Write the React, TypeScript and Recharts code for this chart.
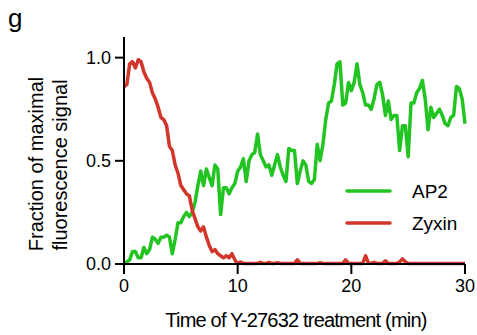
import React from "react";
import { LineChart, Line, XAxis, YAxis, Legend } from "recharts";

const FONT = "'Liberation Sans', Arial, Helvetica, sans-serif";

// sample times (min)
const time = [
  0, 0.25, 0.5, 0.75, 1, 1.25, 1.5, 1.75,
  2, 2.25, 2.5, 2.75, 3, 3.25, 3.5, 3.75,
  4, 4.25, 4.5, 4.75, 5, 5.25, 5.5, 5.75,
  6, 6.25, 6.5, 6.75, 7, 7.25, 7.5, 7.75,
  8, 8.25, 8.5, 8.75, 9, 9.25, 9.5, 9.75,
  10, 10.25, 10.5, 10.75, 11, 11.25, 11.5, 11.75,
  12, 12.25, 12.5, 12.75, 13, 13.25, 13.5, 13.75,
  14, 14.25, 14.5, 14.75, 15, 15.25, 15.5, 15.75,
  16, 16.25, 16.5, 16.75, 17, 17.25, 17.5, 17.75,
  18, 18.25, 18.5, 18.75, 19, 19.25, 19.5, 19.75,
  20, 20.25, 20.5, 20.75, 21, 21.25, 21.5, 21.75,
  22, 22.25, 22.5, 22.75, 23, 23.25, 23.5, 23.75,
  24, 24.25, 24.5, 24.75, 25, 25.25, 25.5, 25.75,
  26, 26.25, 26.5, 26.75, 27, 27.25, 27.5, 27.75,
  28, 28.25, 28.5, 28.75, 29, 29.25, 29.5, 29.75,
  30,
];

const ap2 = [
  0.0, 0.01, 0.02, 0.06, 0.06, 0.03, 0.03, 0.08,
  0.05, 0.07, 0.13, 0.12, 0.1, 0.13, 0.13, 0.14,
  0.13, 0.05, 0.12, 0.2, 0.2, 0.23, 0.25, 0.23,
  0.25, 0.3, 0.38, 0.45, 0.38, 0.46, 0.42, 0.38,
  0.48, 0.46, 0.24, 0.37, 0.37, 0.34, 0.37, 0.39,
  0.45, 0.47, 0.51, 0.4, 0.5, 0.53, 0.54, 0.63,
  0.53, 0.5, 0.47, 0.48, 0.43, 0.48, 0.53, 0.47,
  0.43, 0.4, 0.56, 0.55, 0.55, 0.39, 0.45, 0.5,
  0.48, 0.4, 0.39, 0.41, 0.58, 0.5, 0.58, 0.7,
  0.78, 0.79, 0.87, 0.97, 0.98, 0.77, 0.78, 0.88,
  0.84, 0.88, 0.97, 0.87, 0.83, 0.77, 0.77, 0.75,
  0.8, 0.87, 0.88, 0.82, 0.72, 0.79, 0.7, 0.72,
  0.72, 0.55, 0.67, 0.67, 0.52, 0.78, 0.78, 0.83,
  0.85, 0.89, 0.8, 0.65, 0.76, 0.71, 0.73, 0.75,
  0.72, 0.68, 0.67, 0.71, 0.72, 0.86, 0.85, 0.8,
  0.68,
];

const zyxin = [
  0.86, 0.87, 0.97, 0.98, 0.95, 0.99, 0.98, 0.93,
  0.9, 0.88, 0.83, 0.8, 0.76, 0.71, 0.7, 0.67,
  0.57, 0.55, 0.48, 0.44, 0.38, 0.36, 0.34, 0.33,
  0.26, 0.22, 0.18, 0.16, 0.18, 0.13, 0.09, 0.06,
  0.07, 0.05, 0.04, 0.03, 0.04, 0.03, 0.05, 0.02,
  0.0, 0.01, 0.003, 0.003, 0.003, 0.003, 0.003, 0.003,
  0.008, 0.003, 0.003, 0.008, 0.003, 0.003, 0.006, 0.003,
  0.003, 0.003, 0.003, 0.003, 0.003, 0.02, 0.003, 0.003,
  0.003, 0.003, 0.003, 0.003, 0.003, 0.006, 0.003, 0.003,
  0.003, 0.003, 0.003, 0.003, 0.003, 0.003, 0.02, 0.003,
  0.003, 0.003, 0.003, 0.003, 0.003, 0.04, 0.005, 0.003,
  0.008, 0.003, 0.003, 0.003, 0.015, 0.003, 0.003, 0.003,
  0.003, 0.01, 0.025, 0.01, 0.003, 0.003, 0.003, 0.003,
  0.003, 0.003, 0.003, 0.003, 0.003, 0.003, 0.003, 0.003,
  0.003, 0.003, 0.003, 0.003, 0.003, 0.003, 0.003, 0.003,
  0.003,
];

const xTicks = [0, 10, 20, 30];
const yTicks = [0, 0.5, 1];

const data = time.map((t, i) => ({ t, ap2: ap2[i], zyxin: zyxin[i] }));

const tickStyle = { fill: "#000", fontSize: 18, fontFamily: FONT };

function YTitle() {
  return (
    <g fontFamily={FONT} fontSize={20} fill="#000">
      <text x={43} y={164} transform="rotate(-90 43 164)" textAnchor="middle">
        Fraction of maximal
      </text>
      <text x={67} y={165} transform="rotate(-90 67 165)" textAnchor="middle">
        fluorescence signal
      </text>
    </g>
  );
}

function XTitle() {
  return (
    <text
      x={296}
      y={327}
      textAnchor="middle"
      fontFamily={FONT}
      fontSize={20}
      letterSpacing={-0.8}
      fill="#000"
    >
      Time of Y-27632 treatment (min)
    </text>
  );
}

function LegendBox(props: any) {
  const items = props.payload || [];
  return (
    <svg width={135} height={64} style={{ display: "block" }}>
      {items.map((it: any, i: number) => (
        <g key={it.value}>
          <line
            x1={7}
            x2={50}
            y1={16 + i * 32}
            y2={16 + i * 32}
            stroke={it.color}
            strokeWidth={3.5}
            strokeLinecap="round"
          />
          <text x={72} y={23 + i * 32} fontFamily={FONT} fontSize={19} fill="#000">
            {it.value}
          </text>
        </g>
      ))}
    </svg>
  );
}

export default function App() {
  return (
    <div
      style={{
        position: "absolute",
        left: 0,
        top: 0,
        width: 477,
        height: 335,
        background: "#fff",
      }}
    >
      <div
        style={{
          position: "absolute",
          left: 8,
          top: 5,
          fontFamily: FONT,
          fontSize: 26,
          lineHeight: 1,
        }}
      >
        g
      </div>
      <LineChart
        width={477}
        height={335}
        data={data}
        margin={{ top: 37, right: 12, bottom: 41, left: 0 }}
      >
        <XAxis
          dataKey="t"
          type="number"
          domain={[0, 30]}
          ticks={xTicks}
          tickSize={10}
          tickMargin={5}
          height={30}
          axisLine={{ stroke: "#000", strokeWidth: 2 }}
          tickLine={{ stroke: "#000", strokeWidth: 2 }}
          tick={tickStyle}
          label={{ content: () => <XTitle /> }}
        />
        <YAxis
          type="number"
          domain={[0, 1.1]}
          ticks={yTicks}
          tickFormatter={(v: number) => v.toFixed(1)}
          width={124}
          tickSize={9}
          tickMargin={4}
          axisLine={{ stroke: "#000", strokeWidth: 2 }}
          tickLine={{ stroke: "#000", strokeWidth: 2 }}
          tick={tickStyle}
          label={{ content: () => <YTitle /> }}
        />
        <Legend
          layout="vertical"
          align="center"
          verticalAlign="middle"
          wrapperStyle={{ left: 340, top: 175, width: 135, height: 64 }}
          content={(p: any) => <LegendBox {...p} />}
        />
        <Line
          dataKey="ap2"
          name="AP2"
          stroke="#22c422"
          strokeWidth={3.5}
          dot={false}
          strokeLinejoin="round"
          isAnimationActive={false}
        />
        <Line
          dataKey="zyxin"
          name="Zyxin"
          stroke="#d2352a"
          strokeWidth={3.5}
          dot={false}
          strokeLinejoin="round"
          isAnimationActive={false}
        />
      </LineChart>
    </div>
  );
}
